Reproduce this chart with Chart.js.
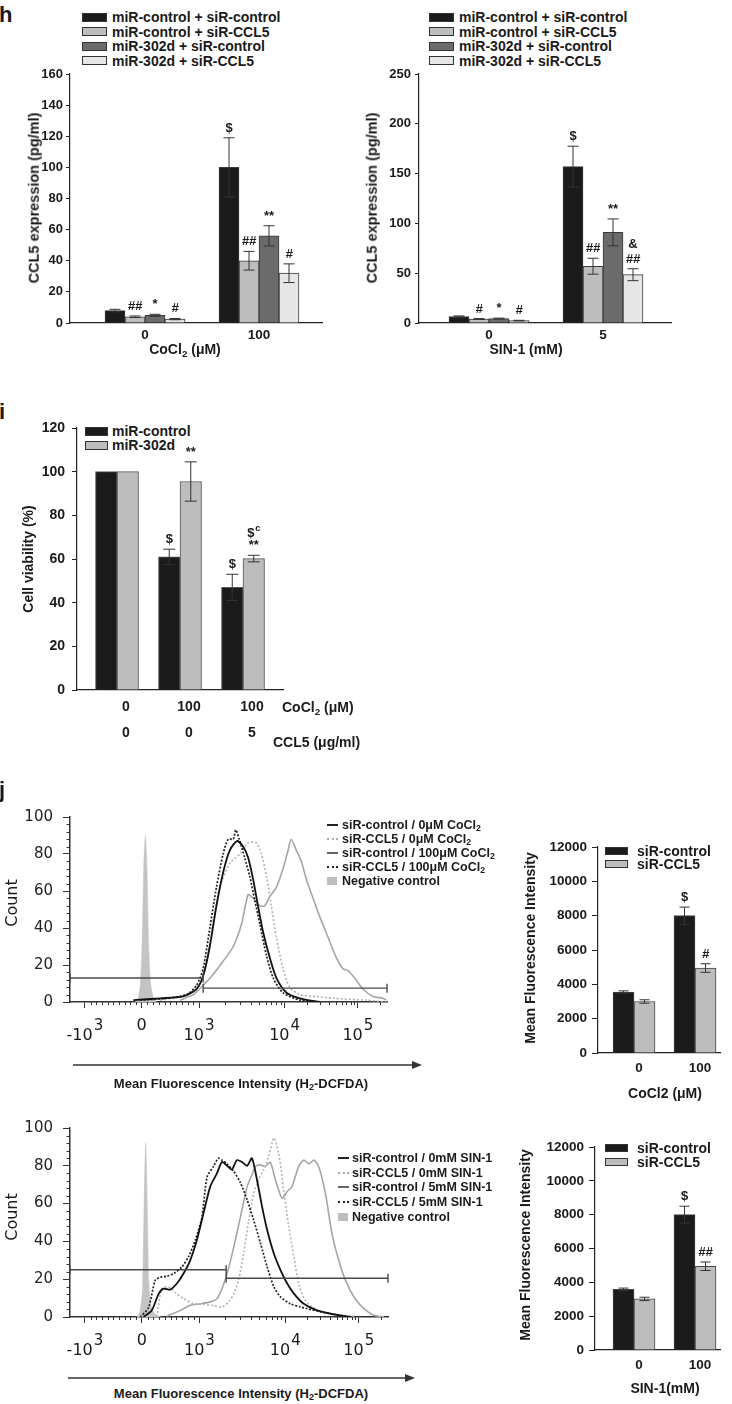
<!DOCTYPE html>
<html>
<head>
<meta charset="utf-8">
<title>CCL5 / miR-302d figure</title>
<script src="https://cdn.jsdelivr.net/npm/chart.js@4.4.1/dist/chart.umd.min.js"></script>
<style>
  body { margin: 0; background: #fff; }
  #fig { position: relative; width: 732px; height: 1404px; overflow: hidden; background: #fff;
         font-family: "Liberation Sans", Arial, sans-serif; color: #1a1a1a; }
  #fig canvas { position: absolute; }
  .t { position: absolute; white-space: nowrap; font-weight: bold; line-height: 1; }
  .t sub { font-size: 0.7em; vertical-align: -0.3em; line-height: 0; }
  .sw { position: absolute; box-sizing: border-box; }
</style>
</head>
<body>
<div id="fig"></div>
<script>
const fig = document.getElementById("fig");
const PAD_T = 22, PAD_R = 12;

Chart.defaults.font.family = '"Liberation Sans", Arial, sans-serif';
Chart.defaults.color = "#1a1a1a";

// ---------- panel h : CCL5 expression ----------
const hSeries = ["miR-control + siR-control", "miR-control + siR-CCL5", "miR-302d + siR-control", "miR-302d + siR-CCL5"];
const hColors = ["#1b1b1b", "#bdbdbd", "#6b6b6b", "#e6e6e6"];

const hCoLabels = ["0", "100"];
const hCoValues = [[8, 100], [4, 40], [5, 56], [2.5, 32]];
const hCoErrors = [[0.8, 19], [0.5, 6], [0.6, 6.5], [0.4, 6]];
const hCoMarks = [["", "$"], ["##", "##"], ["*", "**"], ["#", "#"]];

const hSinLabels = ["0", "5"];
const hSinValues = [[6.5, 157], [4, 57], [4.4, 91], [2.4, 48.5]];
const hSinErrors = [[0.6, 20.5], [0.4, 8], [0.5, 13.5], [0.3, 6]];
const hSinMarks = [["", "$"], ["#", "##"], ["*", "**"], ["#", ["&", "##"]]];

// ---------- panel i : cell viability ----------
const iSeries = ["miR-control", "miR-302d"];
const iColors = ["#1b1b1b", "#bdbdbd"];
const iCoCl2 = ["0", "100", "100"];
const iCCL5 = ["0", "0", "5"];
const iValues = [[100, 61, 47], [100, 95.5, 60.2]];
const iErrors = [[0, 3.5, 6], [0, 9, 1.5]];
const iMarks = [["", "$", "$"], ["", "**", ["$^c", "**"]]];

// ---------- panel j : mean fluorescence bars ----------
const jSeries = ["siR-control", "siR-CCL5"];
const jColors = ["#1b1b1b", "#bdbdbd"];
const jLabels = ["0", "100"];
const jCoValues = [[3550, 8000], [3000, 4950]];
const jCoErrors = [[70, 500], [100, 250]];
const jCoMarks = [["", "$"], ["", "#"]];
const jSinValues = [[3580, 8000], [3020, 4950]];
const jSinErrors = [[80, 500], [100, 250]];
const jSinMarks = [["", "$"], ["", "##"]];

// ---------- panel j : histograms (x in display channels 0-1000) ----------
const histTickPos = [47, 226, 407, 677, 908];
const histTickBase = ["-10", "0", "10", "10", "10"];
const histTickExp = ["3", "", "3", "4", "5"];

const coNegX = [205, 215, 222, 228, 233, 238, 243, 248, 254, 262, 272];
const coNegY = [0, 2, 10, 35, 75, 90, 72, 32, 11, 3, 0];
const coCtrl0X = [200, 284, 357, 399, 420, 441, 462, 483, 504, 527, 546, 562, 578, 593, 609, 630, 651, 683, 725, 788];
const coCtrl0Y = [1, 2, 3, 7, 14, 30, 52, 70, 82, 87, 84, 78, 66, 52, 38, 24, 13, 5, 2, 0];
const coCcl50X = [284, 347, 389, 410, 431, 452, 473, 504, 536, 562, 588, 604, 620, 635, 651, 672, 693, 725, 777, 830, 935, 998];
const coCcl50Y = [1, 3, 6, 10, 22, 45, 62, 75, 80, 86, 86, 80, 68, 52, 35, 18, 8, 4, 3, 2, 1, 0];
const coCtrl100X = [347, 389, 420, 452, 483, 515, 541, 562, 578, 599, 614, 630, 651, 672, 688, 698, 714, 730, 746, 767, 788, 814, 840, 861, 877, 898, 924, 956, 987, 998];
const coCtrl100Y = [1, 4, 9, 15, 22, 30, 42, 58, 56, 52, 52, 57, 62, 72, 82, 88, 82, 76, 66, 56, 46, 35, 24, 18, 17, 13, 7, 3, 2, 1];
const coCcl5100X = [221, 305, 368, 399, 420, 441, 462, 483, 499, 515, 523, 534, 551, 567, 583, 599, 620, 641, 672, 725, 788];
const coCcl5100Y = [1, 2, 4, 9, 18, 40, 62, 80, 88, 88, 93, 88, 78, 68, 55, 42, 25, 13, 5, 1, 0];
const coGateX = [[0, 420], [420, 1000]];
const coGateY = [13, 7.5];

const sinNegX = [210, 220, 228, 233, 238, 243, 248, 255, 265, 285];
const sinNegY = [0, 3, 15, 60, 92, 60, 18, 6, 2, 0];
const sinCtrl0X = [231, 257, 278, 294, 315, 336, 357, 378, 399, 420, 441, 462, 478, 494, 509, 525, 541, 557, 572, 588, 604, 620, 641, 662, 683, 704, 735, 777, 830, 882];
const sinCtrl0Y = [0, 3.5, 12, 15, 14.5, 17.7, 23, 30, 40.7, 55, 69, 76, 82, 80, 78, 83, 82, 80, 84, 72.6, 58.4, 46, 33.6, 24.8, 17.7, 12.4, 7, 3.5, 1.4, 0];
const sinCcl50X = [273, 289, 310, 331, 357, 389, 420, 452, 478, 499, 515, 530, 546, 562, 578, 593, 609, 625, 641, 656, 672, 688, 704, 719, 740, 777, 830, 893];
const sinCcl50Y = [0, 15, 16, 13, 9.7, 7, 6.7, 6, 5.3, 8, 12.4, 19.5, 33.6, 51, 65.5, 72.6, 78, 85, 94.7, 86.7, 67, 47.8, 31.9, 17.7, 8.8, 3.5, 1.4, 0.4];
const sinCtrl5X = [305, 347, 378, 410, 441, 462, 478, 494, 515, 536, 557, 572, 583, 599, 614, 630, 646, 667, 683, 698, 719, 735, 751, 767, 782, 803, 824, 845, 866, 893, 924, 956, 987];
const sinCtrl5Y = [0.4, 3.5, 6.2, 7, 8, 9.7, 15, 23, 37, 53, 69, 75, 79.6, 80.5, 79.6, 81.8, 72.6, 62.8, 66.4, 69, 79.6, 83, 81, 83, 79.6, 65.5, 44, 30, 19.5, 10.6, 4.4, 0.9, 0];
const sinCcl55X = [221, 247, 268, 284, 305, 326, 352, 373, 394, 415, 431, 452, 467, 478, 494, 515, 536, 557, 578, 599, 620, 641, 662, 693, 725, 777, 830, 882];
const sinCcl55Y = [0, 5, 19.5, 21, 21.6, 23, 26.5, 32, 40.7, 53, 74, 80, 84, 83, 81, 77, 71, 62, 51, 39, 26.5, 16, 10.6, 7, 5.3, 3.2, 1.4, 0];
const sinGateX = [[0, 491], [491, 1000]];
const sinGateY = [25, 20.5];

const coLegend = ["siR-control / 0μM CoCl<sub>2</sub>", "siR-CCL5 / 0μM CoCl<sub>2</sub>", "siR-control / 100μM CoCl<sub>2</sub>", "siR-CCL5 / 100μM CoCl<sub>2</sub>", "Negative control"];
const sinLegend = ["siR-control / 0mM SIN-1", "siR-CCL5 / 0mM SIN-1", "siR-control / 5mM SIN-1", "siR-CCL5 / 5mM SIN-1", "Negative control"];

// ---------- helpers ----------
function put(x, y, html, css, anchor) {
  const d = document.createElement("div");
  d.className = "t";
  d.innerHTML = html;
  if (css) d.style.cssText += css;
  d.style.left = x + "px";
  d.style.top = y + "px";
  const tr = { c: "translate(-50%,-50%)", l: "translate(0,-50%)", v: "translate(-50%,-50%) rotate(-90deg)" };
  d.style.transform = tr[anchor || "c"];
  fig.appendChild(d);
}

function boxLegend(x, xText, rows, names, colors, w, h, size) {
  names.forEach((n, k) => {
    const sw = document.createElement("div");
    sw.className = "sw";
    sw.style.cssText += `left:${x}px;top:${rows[k] - h / 2}px;width:${w}px;height:${h}px;background:${colors[k]};border:1px solid #333;`;
    fig.appendChild(sw);
    put(xText, rows[k], n, `font-size:${size}px`, "l");
  });
}

function lineLegend(x, xText, rows, names, styles) {
  names.forEach((n, k) => {
    const sw = document.createElement("div");
    sw.className = "sw";
    if (styles[k] === "box") {
      sw.style.cssText += `left:${x}px;top:${rows[k] - 4}px;width:10px;height:8px;background:#bdbdbd;`;
    } else {
      sw.style.cssText += `left:${x}px;top:${rows[k] - 1}px;width:11px;height:0;border-top:2px ${styles[k]};`;
    }
    fig.appendChild(sw);
    put(xText, rows[k], n, "font-size:12.5px", "l");
  });
}

function makeCanvas(area, wy, hx) {
  const c = document.createElement("canvas");
  const left = area.l - wy, top = area.t - PAD_T;
  const w = area.r + PAD_R - left, h = area.b + hx - top;
  c.width = w;
  c.height = h;
  c.style.left = left + "px";
  c.style.top = top + "px";
  c.style.width = w + "px";
  c.style.height = h + "px";
  fig.appendChild(c);
  return c;
}

function drawMark(ctx, s, x, y, size) {
  const [base, sup] = s.split("^");
  const f = (base.includes("#") ? "italic " : "") + `bold ${size}px "Liberation Sans", Arial, sans-serif`;
  const fs = `bold ${Math.round(size * 0.7)}px "Liberation Sans", Arial, sans-serif`;
  ctx.font = f;
  const wb = ctx.measureText(base).width;
  let ws = 0;
  if (sup) {
    ctx.font = fs;
    ws = ctx.measureText(sup).width + 1;
  }
  ctx.fillStyle = "#1a1a1a";
  ctx.textAlign = "left";
  ctx.textBaseline = "alphabetic";
  const x0 = x - (wb + ws) / 2;
  ctx.font = f;
  ctx.fillText(base, x0, y);
  if (sup) {
    ctx.font = fs;
    ctx.fillText(sup, x0 + wb + 1, y - size * 0.5);
  }
}

// error bars and significance marks over each bar
const errorBars = {
  id: "errorBars",
  afterDatasetsDraw(chart, args, opts) {
    const { ctx } = chart;
    const y = chart.scales.y;
    ctx.save();
    chart.data.datasets.forEach((ds, i) => {
      chart.getDatasetMeta(i).data.forEach((bar, j) => {
        const v = ds.data[j].y;
        const e = ds.errors[j];
        let top = y.getPixelForValue(v);
        if (e > 0) {
          const yt = y.getPixelForValue(v + e);
          const yb = y.getPixelForValue(v - e);
          ctx.strokeStyle = "#333";
          ctx.lineWidth = 1;
          ctx.beginPath();
          ctx.moveTo(bar.x, yt);
          ctx.lineTo(bar.x, yb);
          ctx.moveTo(bar.x - opts.cap, yt);
          ctx.lineTo(bar.x + opts.cap, yt);
          ctx.moveTo(bar.x - opts.cap, yb);
          ctx.lineTo(bar.x + opts.cap, yb);
          ctx.stroke();
          top = yt;
        }
        const m = ds.marks[j];
        const lines = Array.isArray(m) ? m.slice().reverse() : [m];
        lines.forEach((s, k) => {
          if (s) drawMark(ctx, s, bar.x, top - 6 - k * opts.step, opts.size);
        });
      });
    });
    ctx.restore();
  },
};

function barChart(area, wy, hx, cfg) {
  const canvas = makeCanvas(area, wy, hx);
  const pos = cfg.labels.map((_, k) => k);
  return new Chart(canvas, {
    type: "bar",
    data: {
      datasets: cfg.values.map((vals, s) => ({
        label: cfg.series[s],
        data: vals.map((v, k) => ({ x: pos[k], y: v })),
        errors: cfg.errors[s],
        marks: cfg.marks[s],
        backgroundColor: cfg.colors[s],
        borderColor: cfg.border,
        borderWidth: 1,
        barThickness: cfg.thickness,
      })),
    },
    options: {
      responsive: false,
      animation: false,
      layout: { padding: { top: PAD_T, right: PAD_R, left: 0, bottom: 0 } },
      plugins: {
        legend: { display: false },
        tooltip: { enabled: false },
        errorBars: { cap: cfg.cap, step: cfg.markStep, size: cfg.markSize },
      },
      scales: {
        x: {
          type: "linear",
          offset: false,
          min: (area.l - cfg.c0) / cfg.sp,
          max: (area.r - cfg.c0) / cfg.sp,
          afterFit: (s) => { s.height = hx; },
          afterBuildTicks: (s) => { s.ticks = pos.map((v) => ({ value: v })); },
          grid: { display: false, drawTicks: false },
          border: { color: "#222", width: 1.2 },
          ticks: {
            callback: (v, k) => cfg.labels[k],
            autoSkip: false,
            maxRotation: 0,
            padding: cfg.xPad,
            labelOffset: cfg.labelOffset || 0,
            color: "#1a1a1a",
            font: { size: cfg.xFont, weight: "bold", lineHeight: cfg.lineHeight || 1.2 },
          },
        },
        y: {
          min: 0,
          max: cfg.yMax,
          afterFit: (s) => { s.width = wy; },
          grid: { drawOnChartArea: false, tickLength: cfg.tickLen, color: "#222" },
          border: { color: "#222", width: 1.2 },
          ticks: {
            stepSize: cfg.yStep,
            padding: cfg.yPad,
            color: "#1a1a1a",
            font: { size: cfg.yFont, weight: "bold" },
            callback: (v) => String(v),
          },
        },
      },
    },
    plugins: [errorBars],
  });
}

// minor ticks and superscript labels of the cytometry axes
const histMinor = [];
for (let k = 1; k < 10; k++) {
  histMinor.push(histTickPos[0] + (histTickPos[1] - histTickPos[0]) * k / 10);
  histMinor.push(histTickPos[1] + (histTickPos[2] - histTickPos[1]) * k / 10);
}
for (let k = 2; k < 10; k++) {
  histMinor.push(histTickPos[2] + (histTickPos[3] - histTickPos[2]) * Math.log10(k));
  histMinor.push(histTickPos[3] + (histTickPos[4] - histTickPos[3]) * Math.log10(k));
  const c = histTickPos[4] + (histTickPos[4] - histTickPos[3]) * Math.log10(k);
  if (c < 1000) histMinor.push(c);
}

const histAxis = {
  id: "histAxis",
  afterDraw(chart) {
    const { ctx, chartArea: a } = chart;
    const { x, y } = chart.scales;
    ctx.save();
    ctx.strokeStyle = "#333";
    ctx.lineWidth = 1;
    ctx.beginPath();
    for (let v = 4; v < 100; v += 4) {
      if (v % 20 === 0) continue;
      const py = Math.round(y.getPixelForValue(v)) + 0.5;
      ctx.moveTo(a.left, py);
      ctx.lineTo(a.left - 3.5, py);
    }
    histMinor.forEach((c) => {
      const px = Math.round(x.getPixelForValue(c)) + 0.5;
      ctx.moveTo(px, a.bottom);
      ctx.lineTo(px, a.bottom + 3);
    });
    ctx.stroke();
    ctx.fillStyle = "#1a1a1a";
    ctx.textBaseline = "middle";
    ctx.textAlign = "left";
    histTickPos.forEach((c, k) => {
      const px = x.getPixelForValue(c);
      const fb = '16px "DejaVu Sans", sans-serif';
      const fe = '15px "DejaVu Sans", sans-serif';
      ctx.font = fb;
      const wb = ctx.measureText(histTickBase[k]).width;
      ctx.font = fe;
      const we = histTickExp[k] ? ctx.measureText(histTickExp[k]).width + 1 : 0;
      const x0 = px - (wb + we) / 2;
      ctx.font = fb;
      ctx.fillText(histTickBase[k], x0, a.bottom + (we ? 34 : 24));
      if (we) {
        ctx.font = fe;
        ctx.fillText(histTickExp[k], x0 + wb + 1, a.bottom + 24);
      }
    });
    ctx.restore();
  },
};

function histChart(area, curves, gateX, gateY) {
  const canvas = makeCanvas(area, 50, 55);
  const datasets = [];
  gateX.forEach((gx, k) => datasets.push({
    data: gx.map((x) => ({ x, y: gateY[k] })),
    borderColor: "#4a4a4a",
    borderWidth: 1.4,
    pointStyle: "line",
    pointRotation: 90,
    pointRadius: 4.5,
    pointBorderColor: "#4a4a4a",
    pointBorderWidth: 1.4,
    clip: false,
  }));
  curves.forEach((c) => datasets.push({
    data: c.x.map((x, k) => ({ x, y: c.y[k] })),
    borderColor: c.color,
    borderWidth: c.width,
    borderDash: c.dash || [],
    backgroundColor: c.fill || "transparent",
    fill: c.fill ? "origin" : false,
    pointRadius: 0,
    tension: 0.25,
  }));
  return new Chart(canvas, {
    type: "line",
    data: { datasets },
    options: {
      responsive: false,
      animation: false,
      layout: { padding: { top: PAD_T, right: PAD_R, left: 0, bottom: 0 } },
      plugins: { legend: { display: false }, tooltip: { enabled: false } },
      scales: {
        x: {
          type: "linear",
          min: 0,
          max: 1000,
          afterFit: (s) => { s.height = 55; },
          afterBuildTicks: (s) => { s.ticks = histTickPos.map((v) => ({ value: v })); },
          grid: { drawOnChartArea: false, tickLength: 6, color: "#333" },
          border: { color: "#333", width: 1.5 },
          ticks: { callback: () => "", autoSkip: false, maxRotation: 0 },
        },
        y: {
          min: 0,
          max: 100,
          afterFit: (s) => { s.width = 50; },
          grid: { drawOnChartArea: false, tickLength: 7, color: "#333" },
          border: { color: "#333", width: 1.5 },
          ticks: { stepSize: 20, padding: 10, color: "#222", font: { family: '"DejaVu Sans", sans-serif', size: 15 } },
        },
      },
    },
    plugins: [histAxis],
  });
}

// ---------- panel h ----------
put(-1, 15, "h", "font-size:22px", "l");
const hRows = [17, 31.5, 46, 60.5];
boxLegend(82, 112, hRows, hSeries, hColors, 25, 9, 14);
boxLegend(429, 459, hRows, hSeries, hColors, 25, 9, 14);

const hCommon = {
  series: hSeries, colors: hColors, border: "#3a3a3a", thickness: 20, cap: 5.5, markStep: 15, markSize: 13,
  xPad: 4, xFont: 13.5, yFont: 13, tickLen: 4, sp: 114,
};
barChart({ l: 70, r: 322, t: 74, b: 323 }, 50, 26, Object.assign({}, hCommon, {
  labels: hCoLabels, values: hCoValues, errors: hCoErrors, marks: hCoMarks,
  c0: 145, yMax: 160, yStep: 20, yPad: 3,
}));
barChart({ l: 419, r: 671, t: 74, b: 323 }, 50, 26, Object.assign({}, hCommon, {
  labels: hSinLabels, values: hSinValues, errors: hSinErrors, marks: hSinMarks,
  c0: 489, yMax: 250, yStep: 50, yPad: 4,
}));
put(34, 198, "CCL5 expression (pg/ml)", "font-size:14.5px", "v");
put(372, 198, "CCL5 expression (pg/ml)", "font-size:14.5px", "v");
put(185, 349, "CoCl<sub>2</sub> (μM)", "font-size:14px");
put(526, 349, "SIN-1 (mM)", "font-size:14px");

// ---------- panel i ----------
put(-1, 412, "i", "font-size:22px", "l");
boxLegend(85, 112, [431, 445], iSeries, iColors, 23, 9, 14);
barChart({ l: 77, r: 283, t: 428, b: 690 }, 50, 60, {
  series: iSeries, colors: iColors, border: "#555", thickness: 21.5, cap: 6, markStep: 12, markSize: 13,
  labels: iCoCl2.map((c, k) => [c, iCCL5[k]]), values: iValues, errors: iErrors, marks: iMarks,
  c0: 117, sp: 63, yMax: 120, yStep: 20, yPad: 7, tickLen: 5,
  xPad: 4, xFont: 14, lineHeight: 1.85, labelOffset: 9, yFont: 14,
});
put(28, 559, "Cell viability (%)", "font-size:14px", "v");
put(282, 707, "CoCl<sub>2</sub> (μM)", "font-size:14px", "l");
put(273, 742, "CCL5 (μg/ml)", "font-size:14px", "l");

// ---------- panel j : histograms ----------
put(-1, 790, "j", "font-size:22px", "l");
histChart({ l: 70, r: 387, t: 817, b: 1002 }, [
  { x: coCtrl0X, y: coCtrl0Y, color: "#111", width: 1.8 },
  { x: coCcl5100X, y: coCcl5100Y, color: "#222", width: 1.7, dash: [2, 1.6] },
  { x: coCcl50X, y: coCcl50Y, color: "#b3b3b3", width: 1.6, dash: [2, 2] },
  { x: coCtrl100X, y: coCtrl100Y, color: "#a6a6a6", width: 1.6 },
  { x: coNegX, y: coNegY, color: "#c4c4c4", width: 0.5, fill: "#c4c4c4" },
], coGateX, coGateY);
histChart({ l: 70, r: 388, t: 1128, b: 1317 }, [
  { x: sinCtrl0X, y: sinCtrl0Y, color: "#111", width: 1.8 },
  { x: sinCcl55X, y: sinCcl55Y, color: "#222", width: 1.7, dash: [2, 1.6] },
  { x: sinCcl50X, y: sinCcl50Y, color: "#b3b3b3", width: 1.6, dash: [2, 2] },
  { x: sinCtrl5X, y: sinCtrl5Y, color: "#a6a6a6", width: 1.6 },
  { x: sinNegX, y: sinNegY, color: "#c4c4c4", width: 0.5, fill: "#c4c4c4" },
], sinGateX, sinGateY);

const legStyles = ["solid #222", "dotted #aaa", "solid #666", "dotted #222", "box"];
lineLegend(327, 342, [825, 839, 853, 867, 881], coLegend, legStyles);
lineLegend(338, 352, [1158, 1173, 1187, 1202, 1217], sinLegend, legStyles);

put(12, 903, "Count", 'font-family:"DejaVu Sans",sans-serif;font-weight:normal;font-size:16px', "v");
put(12, 1217, "Count", 'font-family:"DejaVu Sans",sans-serif;font-weight:normal;font-size:16px', "v");
put(241, 1083, "Mean Fluorescence Intensity (H<sub>2</sub>-DCFDA)", "font-size:13px");
put(241, 1393, "Mean Fluorescence Intensity (H<sub>2</sub>-DCFDA)", "font-size:13px");

const arrows = [[73, 422, 1065], [68, 415, 1378]];
fig.insertAdjacentHTML("beforeend",
  '<svg width="732" height="1404" style="position:absolute;left:0;top:0" xmlns="http://www.w3.org/2000/svg">' +
  arrows.map((a) =>
    `<line x1="${a[0]}" y1="${a[2]}" x2="${a[1] - 8}" y2="${a[2]}" stroke="#333" stroke-width="1.5"/>` +
    `<polygon points="${a[1]},${a[2]} ${a[1] - 10},${a[2] - 4} ${a[1] - 10},${a[2] + 4}" fill="#333"/>`
  ).join("") + "</svg>");

// ---------- panel j : bar charts ----------
const jCommon = {
  series: jSeries, colors: jColors, border: "#444", thickness: 21, cap: 5, markStep: 14, markSize: 13,
  labels: jLabels, c0: 634, sp: 61, yMax: 12000, yStep: 2000, yPad: 5, tickLen: 6,
  xPad: 7, xFont: 13.5, labelOffset: 5, yFont: 13.5,
};
boxLegend(605, 637, [851, 864], jSeries, jColors, 23, 8, 14);
barChart({ l: 598, r: 720, t: 847, b: 1053 }, 55, 24, Object.assign({}, jCommon, {
  values: jCoValues, errors: jCoErrors, marks: jCoMarks,
}));
boxLegend(605, 637, [1148, 1162], jSeries, jColors, 23, 8, 14);
barChart({ l: 595, r: 720, t: 1147, b: 1350 }, 55, 24, Object.assign({}, jCommon, {
  values: jSinValues, errors: jSinErrors, marks: jSinMarks,
}));
put(530, 948, "Mean Fluorescence Intensity", "font-size:14px", "v");
put(525, 1245, "Mean Fluorescence Intensity", "font-size:14px", "v");
put(665, 1093, "CoCl2 (μM)", "font-size:14px");
put(665, 1388, "SIN-1(mM)", "font-size:14px");
</script>
</body>
</html>
